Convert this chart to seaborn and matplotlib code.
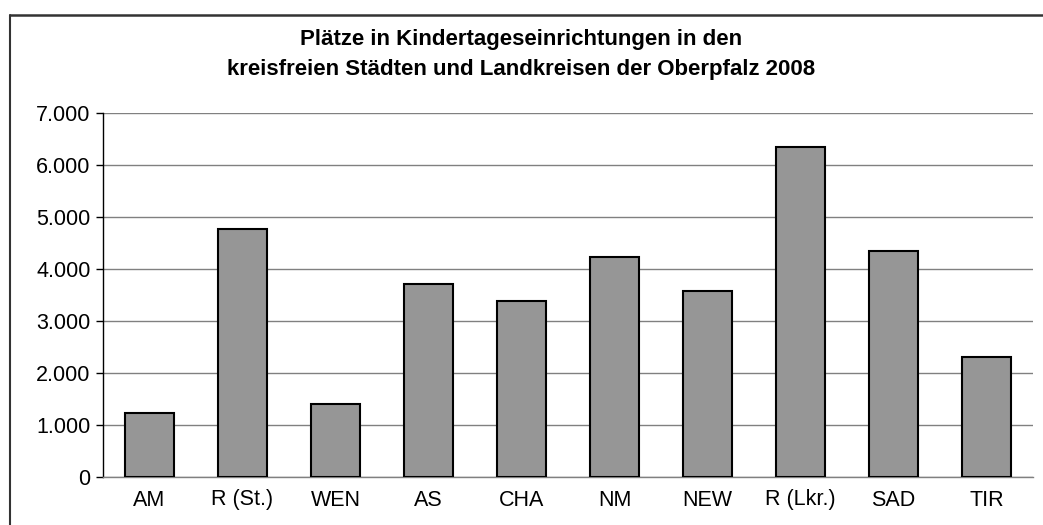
import matplotlib
matplotlib.use("Agg")
import matplotlib.pyplot as plt
import seaborn as sns
import pandas as pd
from matplotlib.ticker import FuncFormatter, FixedLocator
from matplotlib.lines import Line2D

categories = ["AM", "R (St.)", "WEN", "AS", "CHA", "NM", "NEW", "R (Lkr.)", "SAD", "TIR"]
values = [1240, 4770, 1400, 3710, 3390, 4240, 3585, 6355, 4355, 2315]
title_lines = ["Plätze in Kindertageseinrichtungen in den",
               "kreisfreien Städten und Landkreisen der Oberpfalz 2008"]

sns.set_style("white")
plt.rcParams['font.family'] = ['Liberation Sans', 'DejaVu Sans']
plt.rcParams['text.color'] = 'black'
plt.rcParams['xtick.color'] = 'black'
plt.rcParams['ytick.color'] = 'black'

df = pd.DataFrame({"Kreis": categories, "Plaetze": values})

fig = plt.figure(figsize=(10.43, 5.25), dpi=100)
ax = fig.add_axes([103/1043, 48/525, 930/1043, 363.7/525])

sns.barplot(data=df, x="Kreis", y="Plaetze", color="#969696", edgecolor="black",
            linewidth=1.5, width=0.52, saturation=1, ax=ax, zorder=3)

ax.set_xlim(-0.5, len(categories) - 0.5)
ax.set_ylim(0, 7000)
ax.set_yticks(range(0, 7001, 1000))
ax.yaxis.set_major_formatter(FuncFormatter(lambda v, p: f"{int(v):,}".replace(",", ".")))
ax.grid(axis="y", color="#808080", linewidth=1, zorder=0)
ax.grid(axis="x", visible=False)
ax.set_axisbelow(True)

ax.set_xlabel("")
ax.set_ylabel("")
ax.tick_params(axis="x", which="major", length=0, labelsize=15.5, pad=9, labelcolor="black")
ax.xaxis.set_minor_locator(FixedLocator([i - 0.5 for i in range(len(categories) + 1)]))
ax.tick_params(axis="x", which="minor", length=5, color="#808080", width=1, direction="out")
ax.tick_params(axis="y", length=5, color="black", width=1, labelsize=15.5, pad=4,
               direction="out", left=True, labelcolor="black")

for s in ["top", "right"]:
    ax.spines[s].set_visible(False)
ax.spines["left"].set_color("black")
ax.spines["left"].set_linewidth(1)
ax.spines["bottom"].set_color("#808080")
ax.spines["bottom"].set_linewidth(1)

fig.text(0.5, 1 - 39/525, title_lines[0], ha="center", va="center", fontsize=16,
         fontweight="bold", color="black")
fig.text(0.5, 1 - 69/525, title_lines[1], ha="center", va="center", fontsize=16,
         fontweight="bold", color="black")

fig.lines.append(Line2D([9.5/1043, 1.0], [1 - 15/525, 1 - 15/525], transform=fig.transFigure,
                        color="#333333", linewidth=1.8))
fig.lines.append(Line2D([9.5/1043, 9.5/1043], [0.0, 1 - 15/525], transform=fig.transFigure,
                        color="#333333", linewidth=1.5))

fig.savefig("out.png", dpi=100)
